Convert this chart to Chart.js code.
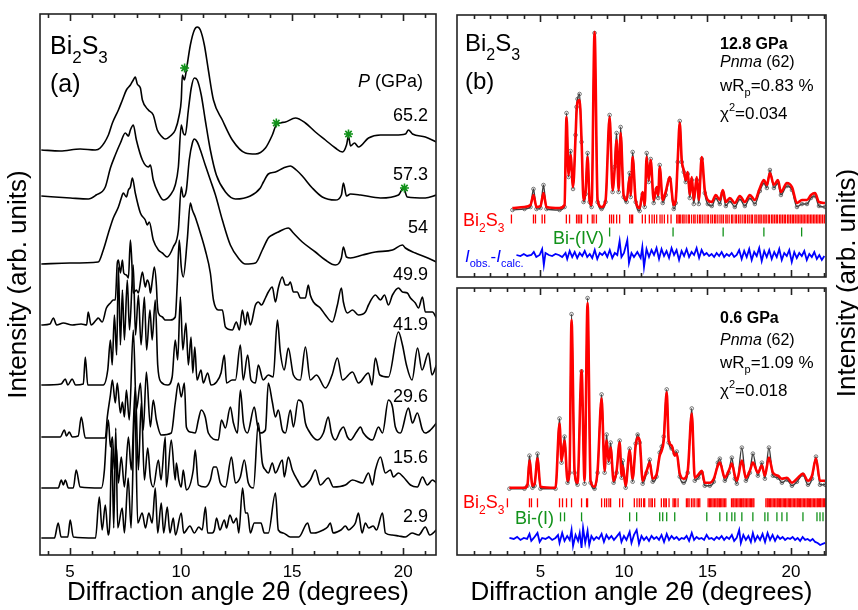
<!DOCTYPE html>
<html lang="pt-br">
<head>
<meta charset="UTF-8">
<title>Bi2S3 - difração</title>
<script src="https://cdn.jsdelivr.net/npm/chart.js@4"></script>
<style>
  body { margin: 0; background: #fff; }
  #quadro { position: relative; width: 858px; height: 610px; }
  #quadro canvas { position: absolute; left: 0; top: 0; }
</style>
</head>
<body>
<div id="quadro">
  <canvas id="graficoA" width="858" height="610"></canvas>
  <canvas id="graficoB" width="858" height="610"></canvas>
  <canvas id="graficoC" width="858" height="610"></canvas>
</div>
<script>
// ---------- painel (a): pressões, deslocamentos verticais e perfis [2θ, intensidade] ----------
const pressoes = ['65.2', '57.3', '54', '49.9', '41.9', '29.6', '15.6', '2.9'];
const deslocamentos = [405, 358, 291, 230, 170, 118, 67, 17];

const p652 = [[3.71,0],[4.56,-1],[5.46,1],[6.14,0],[6.36,2],[6.73,15],[6.91,27],[7.18,40],[7.36,50],[7.54,60],[7.72,65],[7.85,70],[7.94,73],[8.03,66],[8.17,62],[8.26,50],[8.53,40],[8.75,35],[8.93,20],[9.11,14],[9.29,11],[9.52,14],[9.74,20],[9.92,35],[10.01,50],[10.06,75],[10.15,70],[10.24,80],[10.42,105],[10.6,120],[10.73,123],[10.87,120],[11.05,105],[11.23,80],[11.46,50],[11.86,30],[12.31,10],[12.9,-3],[13.35,-4],[13.8,2],[14.11,15],[14.29,25],[14.7,28],[15.15,32],[15.6,27],[16.05,18],[16.5,10],[16.95,2],[17.27,-2],[17.45,5],[17.54,14],[17.63,4],[17.81,7],[17.99,3],[18.44,12],[18.98,15],[19.65,15],[20.1,16],[20.24,20],[20.42,16],[21.0,13],[21.5,8]];
const p573 = [[3.71,1],[5.02,-1],[5.83,-2],[6.18,2],[6.59,10],[6.82,29],[7.04,42],[7.27,54],[7.49,64],[7.63,61],[7.72,67],[7.85,72],[7.99,57],[8.26,37],[8.53,30],[8.62,32],[8.75,17],[8.98,4],[9.2,-3],[9.52,2],[9.74,12],[9.88,30],[10.01,72],[10.1,64],[10.19,62],[10.33,87],[10.46,109],[10.6,119],[10.73,117],[10.91,102],[11.09,77],[11.32,47],[11.59,22],[12.0,5],[12.45,-2],[13.12,1],[13.57,9],[13.71,15],[13.93,23],[14.25,25],[14.61,29],[14.92,31],[15.19,27],[15.46,21],[15.91,9],[16.36,0],[16.95,-3],[17.22,2],[17.31,14],[17.45,1],[17.63,3],[18.08,2],[18.98,-1],[19.79,2],[20.01,9],[20.19,0],[21.0,-1],[21.5,2]];
const p540 = [[3.71,0],[5.0,1],[6.27,2],[6.5,14],[6.73,31],[6.95,46],[7.18,57],[7.31,66],[7.4,71],[7.54,67],[7.63,74],[7.72,77],[7.81,86],[7.94,71],[8.17,51],[8.39,44],[8.48,39],[8.57,42],[8.75,24],[8.98,14],[9.16,11],[9.38,7],[9.65,17],[9.88,34],[10.01,77],[10.1,67],[10.24,74],[10.37,104],[10.51,121],[10.6,125],[10.73,122],[10.87,114],[11.09,99],[11.32,84],[11.55,69],[11.86,44],[12.22,19],[12.58,6],[12.9,0],[13.35,1],[13.66,14],[13.93,26],[14.11,29],[14.38,32],[14.83,36],[15.06,31],[15.46,22],[16.05,12],[16.5,4],[16.95,-1],[17.22,6],[17.31,17],[17.45,7],[17.63,6],[18.17,9],[18.75,12],[19.52,14],[19.97,19],[20.1,16],[20.55,11],[21.0,7],[21.5,2]];
const p499 = [[3.71,0],[4.1,1],[4.25,7],[4.4,0],[4.7,2],[5.1,0],[5.5,1],[5.75,0],[5.82,13],[5.95,0],[6.18,5],[6.27,7],[6.45,3],[6.64,17],[6.82,22],[6.95,25],[7.04,25],[7.13,62],[7.18,65],[7.27,52],[7.36,65],[7.42,52],[7.54,50],[7.63,47],[7.72,85],[7.78,65],[7.85,32],[7.99,35],[8.08,32],[8.26,53],[8.35,42],[8.39,38],[8.48,45],[8.57,40],[8.62,32],[8.71,45],[8.8,58],[8.89,40],[8.93,22],[8.98,12],[9.16,8],[9.29,5],[9.52,5],[9.74,8],[9.83,42],[9.92,85],[10.01,58],[10.1,48],[10.28,85],[10.42,122],[10.51,115],[10.64,108],[10.73,102],[10.87,92],[11.09,75],[11.32,52],[11.46,25],[11.68,15],[11.86,15],[12.0,-2],[12.31,-5],[12.49,3],[12.63,-5],[12.76,15],[12.9,0],[12.99,13],[13.12,0],[13.35,20],[13.48,23],[13.62,20],[13.8,27],[13.93,33],[14.11,38],[14.25,23],[14.38,37],[14.56,48],[14.7,40],[14.83,40],[14.92,43],[15.06,33],[15.24,33],[15.37,27],[15.6,27],[15.73,40],[15.82,30],[15.96,23],[16.27,17],[16.5,10],[16.81,3],[17.04,20],[17.22,37],[17.31,23],[17.49,12],[17.72,15],[17.99,10],[18.3,13],[18.44,20],[18.75,30],[18.98,25],[19.16,30],[19.34,20],[19.52,30],[19.79,37],[19.97,33],[20.19,32],[20.33,27],[20.55,22],[20.69,17],[20.87,28],[21.0,13],[21.32,13],[21.5,7]];
const p419 = [[3.71,0],[4.6,1],[4.79,6],[4.9,0],[5.1,6],[5.25,0],[5.6,1],[5.69,28],[5.8,0],[6.5,0],[6.7,15],[6.82,45],[6.9,20],[7.0,70],[7.1,30],[7.18,118],[7.27,40],[7.36,95],[7.45,45],[7.58,105],[7.68,55],[7.85,120],[7.95,50],[8.08,90],[8.2,40],[8.35,88],[8.45,35],[8.6,75],[8.7,45],[8.84,85],[8.95,20],[9.1,3],[9.4,0],[9.6,8],[9.74,45],[9.85,25],[9.97,88],[10.08,35],[10.22,62],[10.33,20],[10.45,48],[10.53,12],[10.62,38],[10.72,5],[10.9,15],[11.0,2],[11.2,12],[11.35,0],[11.6,3],[11.8,12],[11.95,30],[12.05,2],[12.3,5],[12.45,5],[12.67,40],[12.8,5],[13.0,30],[13.15,5],[13.35,2],[13.48,20],[13.7,5],[13.93,10],[14.15,8],[14.34,65],[14.47,33],[14.65,15],[14.83,37],[15.06,10],[15.37,5],[15.6,38],[15.82,5],[16.1,10],[16.5,-3],[16.8,10],[17.04,27],[17.27,5],[17.72,13],[17.99,2],[18.44,12],[18.6,0],[18.75,27],[18.95,10],[19.34,8],[19.79,53],[19.97,40],[20.15,20],[20.4,5],[20.65,37],[20.85,15],[21.14,32],[21.3,10],[21.5,20]];
const p296 = [[3.71,0],[4.56,0],[4.75,7],[4.84,1],[4.97,5],[5.1,0],[5.37,1],[5.51,20],[5.69,-1],[6.59,-1],[6.68,20],[6.82,42],[6.91,57],[7.04,34],[7.13,54],[7.27,24],[7.36,35],[7.45,20],[7.54,47],[7.67,17],[7.85,107],[7.99,27],[8.17,54],[8.3,7],[8.44,65],[8.62,10],[8.75,37],[8.89,17],[9.11,2],[9.56,4],[9.74,34],[9.88,54],[10.01,40],[10.15,54],[10.24,10],[10.42,5],[10.64,4],[10.78,17],[10.91,27],[11.09,20],[11.23,4],[11.68,-3],[11.82,17],[12.0,9],[12.22,30],[12.36,14],[12.54,4],[12.67,47],[12.81,14],[12.99,4],[13.3,30],[13.44,12],[13.57,4],[13.8,7],[13.93,54],[14.11,35],[14.25,20],[14.38,27],[14.56,7],[14.7,4],[14.92,27],[15.06,10],[15.28,37],[15.46,34],[15.6,14],[15.73,7],[16.14,-3],[16.41,4],[16.63,20],[16.77,4],[16.95,-3],[17.18,7],[17.31,10],[17.49,0],[17.63,-3],[17.9,5],[18.08,10],[18.21,4],[18.62,-3],[18.89,10],[19.07,4],[19.34,37],[19.52,30],[19.65,10],[19.88,4],[20.24,29],[20.42,14],[20.64,24],[20.87,7],[21.0,4],[21.23,7],[21.5,14]];
const p156 = [[3.71,0],[4.47,0],[4.61,8],[4.7,3],[4.79,8],[4.93,0],[5.15,0],[5.28,18],[5.46,1],[6.41,0],[6.55,18],[6.64,51],[6.73,68],[6.82,41],[6.91,51],[7.0,18],[7.09,41],[7.18,5],[7.31,31],[7.45,1],[7.63,51],[7.76,18],[7.94,101],[8.08,18],[8.21,85],[8.35,8],[8.5,40],[8.62,10],[8.75,1],[8.98,28],[9.1,8],[9.29,51],[9.34,1],[9.56,48],[9.74,8],[9.79,25],[9.9,8],[10.01,1],[10.1,18],[10.24,-2],[10.55,18],[10.64,38],[10.78,3],[11.09,1],[11.32,8],[11.46,21],[11.59,21],[11.77,5],[12.0,1],[12.27,31],[12.45,5],[12.67,11],[12.85,28],[13.03,5],[13.26,0],[13.48,65],[13.66,25],[13.8,18],[13.93,15],[14.11,25],[14.25,15],[14.56,28],[14.65,11],[14.83,31],[15.01,18],[15.24,8],[15.46,1],[15.82,8],[16.05,18],[16.27,3],[16.63,10],[16.86,1],[17.4,3],[17.72,8],[18.17,5],[18.44,15],[18.62,3],[18.75,18],[18.98,31],[19.2,15],[19.43,18],[19.56,11],[19.79,15],[20.01,11],[20.33,3],[20.64,1],[20.87,11],[21.09,3],[21.32,8],[21.5,5]];
const p029 = [[3.71,0],[4.3,0],[4.47,15],[4.6,1],[4.9,1],[5.01,18],[5.15,1],[6.15,0],[6.32,41],[6.45,8],[6.59,33],[6.72,3],[6.8,20],[6.88,95],[6.97,10],[7.06,110],[7.15,10],[7.35,30],[7.45,5],[7.62,60],[7.75,10],[7.92,135],[8.05,15],[8.25,25],[8.4,10],[8.55,25],[8.7,15],[8.84,50],[8.95,5],[9.11,35],[9.22,5],[9.38,31],[9.5,5],[9.65,20],[9.75,3],[10.01,25],[10.12,5],[10.4,12],[10.6,5],[10.8,11],[10.95,8],[11.1,31],[11.2,5],[11.4,5],[11.5,8],[11.6,20],[11.75,8],[11.95,18],[12.05,10],[12.2,23],[12.36,15],[12.5,20],[12.6,5],[12.77,50],[12.9,25],[13.0,25],[13.12,5],[13.3,15],[13.43,15],[13.6,15],[13.75,5],[13.93,5],[14.25,45],[14.38,8],[14.6,5],[14.92,1],[15.3,1],[15.7,15],[15.85,5],[16.0,5],[16.4,8],[16.6,11],[16.72,15],[16.85,5],[17.2,8],[17.4,12],[17.55,8],[17.72,11],[17.85,15],[17.99,25],[18.15,5],[18.3,15],[18.45,10],[18.65,12],[18.8,8],[19.07,25],[19.2,5],[19.5,3],[19.8,2],[20.1,1],[20.4,5],[20.7,3],[21.0,11],[21.2,3],[21.5,8]];
const perfis = [p652, p573, p540, p499, p419, p296, p156, p029];

// asteriscos verdes do painel (a) [2θ, intensidade]
const asteriscos = [[10.16, 487], [14.29, 432], [17.54, 421], [20.06, 367]];

// ---------- painel (b): 12.8 GPa ----------
const calc128 = [[3.32,69],[4.04,70],[4.4,72],[4.58,82],[4.76,70],[5.0,71],[5.18,84],[5.36,70],[6.14,69],[6.44,72],[6.56,160],[6.68,102],[6.8,122],[6.95,90],[7.1,140],[7.16,165],[7.22,175],[7.34,177],[7.46,137],[7.58,77],[7.7,85],[7.82,120],[7.94,77],[8.06,72],[8.24,245],[8.42,77],[8.66,70],[8.9,77],[9.14,160],[9.32,87],[9.44,107],[9.56,137],[9.68,87],[9.8,144],[9.98,82],[10.16,77],[10.34,100],[10.4,82],[10.52,120],[10.7,77],[10.94,69],[11.12,85],[11.24,72],[11.36,120],[11.48,97],[11.6,117],[11.78,77],[11.96,90],[12.05,82],[12.14,110],[12.32,77],[12.5,85],[12.74,100],[12.98,72],[13.1,77],[13.22,117],[13.34,154],[13.46,117],[13.58,107],[13.7,97],[13.82,105],[13.94,82],[14.06,100],[14.18,77],[14.36,100],[14.48,77],[14.66,120],[14.84,87],[15.02,77],[15.26,75],[15.5,82],[15.74,77],[15.92,87],[16.1,75],[16.34,79],[16.64,74],[16.94,81],[17.24,75],[17.54,82],[17.84,77],[18.14,89],[18.38,97],[18.56,92],[18.74,104],[18.98,92],[19.22,97],[19.4,85],[19.76,94],[20.06,90],[20.36,74],[20.66,77],[20.96,77],[21.2,82],[21.44,84],[21.68,75],[22.04,74]];
const obs128 = [[3.32,67],[4.04,68],[4.4,70],[4.58,88],[4.76,68],[5.0,69],[5.18,92],[5.36,68],[6.14,67],[6.44,70],[6.56,164],[6.68,100],[6.8,126],[6.95,88],[7.1,142],[7.16,170],[7.22,178],[7.34,183],[7.46,135],[7.58,75],[7.7,83],[7.82,124],[7.94,75],[8.06,70],[8.24,244],[8.42,75],[8.66,68],[8.9,75],[9.14,162],[9.32,85],[9.44,110],[9.56,144],[9.68,85],[9.8,150],[9.98,80],[10.16,75],[10.34,104],[10.4,80],[10.52,125],[10.7,75],[10.94,66],[11.12,83],[11.24,70],[11.36,124],[11.48,95],[11.6,118],[11.78,74],[11.96,88],[12.05,79],[12.14,112],[12.32,74],[12.5,82],[12.74,98],[12.98,68],[13.1,74],[13.22,115],[13.34,156],[13.46,115],[13.58,105],[13.7,95],[13.82,103],[13.94,79],[14.06,97],[14.18,73],[14.36,97],[14.48,73],[14.66,118],[14.84,84],[15.02,73],[15.26,71],[15.5,79],[15.74,73],[15.92,84],[16.1,71],[16.34,76],[16.64,70],[16.94,78],[17.24,71],[17.54,79],[17.84,73],[18.14,86],[18.38,94],[18.56,89],[18.74,107],[18.98,89],[19.22,94],[19.4,82],[19.76,91],[20.06,87],[20.36,70],[20.66,73],[20.96,73],[21.2,79],[21.44,81],[21.68,71],[22.04,70]];
const dif128 = [[3.56,22],[3.8,21],[4.0,23],[4.2,21],[4.45,22],[4.6,25],[4.75,20],[4.95,22],[5.1,28],[5.2,12],[5.3,24],[5.5,22],[5.7,21],[5.9,23],[6.1,22],[6.3,20],[6.5,24],[6.6,18],[6.75,26],[6.9,20],[7.05,25],[7.2,19],[7.35,24],[7.5,21],[7.65,26],[7.8,20],[7.95,23],[8.1,19],[8.25,27],[8.4,18],[8.55,24],[8.7,22],[8.85,25],[9.0,20],[9.15,27],[9.3,19],[9.45,24],[9.6,22],[9.74,36],[9.85,20],[10.0,24],[10.2,37],[10.3,14],[10.45,24],[10.6,20],[10.8,25],[11.0,19],[11.1,30],[11.2,10],[11.35,28],[11.5,20],[11.65,27],[11.8,22],[11.95,29],[12.1,18],[12.25,28],[12.4,21],[12.55,26],[12.7,19],[12.85,29],[13.0,22],[13.15,27],[13.3,17],[13.45,26],[13.6,21],[13.75,28],[13.9,20],[14.05,25],[14.2,22],[14.35,29],[14.5,19],[14.65,27],[14.8,22],[14.95,24],[15.1,21],[15.25,23],[15.4,20],[15.55,24],[15.7,21],[15.85,25],[16.0,20],[16.15,23],[16.3,21],[16.45,24],[16.6,20],[16.75,22],[16.9,27],[17.05,18],[17.2,26],[17.35,20],[17.5,28],[17.65,17],[17.8,25],[17.95,21],[18.1,29],[18.25,16],[18.4,26],[18.55,20],[18.7,27],[18.85,18],[19.0,25],[19.15,20],[19.3,28],[19.45,17],[19.6,24],[19.75,21],[19.9,27],[20.05,15],[20.2,25],[20.35,19],[20.5,24],[20.65,21],[20.8,26],[20.95,17],[21.1,23],[21.25,20],[21.4,25],[21.55,18],[21.7,22],[21.85,17],[22.0,21]];
const refl128 = [3.26,4.58,4.7,5.1,5.25,6.55,6.74,7.16,7.26,7.36,7.46,7.82,8.1,8.2,8.35,9.14,9.26,9.38,9.56,9.74,10.34,10.44,10.52,11.1,11.28,11.52,11.68,11.82,11.96,12.16,12.28,12.42,12.62,12.82,13.16,13.24,13.32,13.4,13.52,13.6,13.72,13.85,13.92,14.05,14.18,14.26,14.4,14.52,14.6,14.72,14.85,14.98,15.06,15.2,15.3,15.42,15.5,15.62,15.75,15.86,15.96,16.1,16.18,16.3,16.44,16.52,16.66,16.74,16.86,16.96,17.08,17.2,17.28,17.4,17.5,17.62,17.7,17.84,17.92,18.04,18.14,18.22,18.34,18.44,18.52,18.64,18.72,18.84,18.92,19.02,19.12,19.2,19.32,19.4,19.5,19.6,19.68,19.8,19.88,19.98,20.08,20.16,20.26,20.36,20.44,20.54,20.62,20.72,20.8,20.9,21.0,21.08,21.18,21.26,21.36,21.44,21.54,21.62,21.72,21.8,21.9,22.0];
const reflBiIV = [9.14, 12.94, 15.94, 18.38, 20.64];

// ---------- painel (b): 0.6 GPa ----------
const calc06 = [[3.14,67],[4.04,67],[4.22,70],[4.34,94],[4.52,69],[4.65,71],[4.82,96],[5.0,68],[5.9,67],[6.14,131],[6.26,94],[6.44,114],[6.62,74],[6.74,84],[6.86,234],[7.04,84],[7.22,72],[7.46,184],[7.64,74],[7.82,251],[8.0,74],[8.24,68],[8.42,84],[8.66,156],[8.84,84],[8.96,114],[9.08,94],[9.2,107],[9.38,74],[9.56,84],[9.74,112],[9.86,79],[9.92,89],[10.1,69],[10.34,104],[10.52,76],[10.7,109],[10.82,117],[10.94,114],[11.12,74],[11.36,84],[11.54,92],[11.72,76],[11.95,80],[12.14,99],[12.26,104],[12.38,114],[12.56,162],[12.68,114],[12.86,109],[13.04,99],[13.16,101],[13.34,81],[13.58,76],[13.82,84],[14.06,141],[14.24,77],[14.45,80],[14.66,84],[14.84,72],[15.14,72],[15.38,76],[15.62,89],[15.74,92],[16.04,77],[16.28,84],[16.46,91],[16.64,79],[16.76,74],[17.06,94],[17.3,77],[17.54,84],[17.72,92],[18.02,82],[18.26,89],[18.44,79],[18.68,97],[18.92,82],[19.22,79],[19.46,76],[19.76,77],[20.06,72],[20.36,76],[20.72,81],[21.02,74],[21.26,79],[21.5,96],[21.74,74],[22.04,74]];
const obs06 = [[3.14,66],[4.04,66],[4.22,69],[4.34,99],[4.52,67],[4.65,69],[4.82,101],[5.0,66],[5.9,66],[6.14,136],[6.26,92],[6.44,118],[6.62,72],[6.74,82],[6.86,240],[7.04,82],[7.22,70],[7.46,183],[7.64,71],[7.82,256],[8.0,72],[8.24,66],[8.42,82],[8.66,160],[8.84,82],[8.96,120],[9.08,92],[9.2,112],[9.38,72],[9.56,82],[9.74,114],[9.86,77],[9.92,94],[10.1,67],[10.34,106],[10.52,73],[10.7,111],[10.82,120],[10.94,112],[11.12,71],[11.36,82],[11.54,95],[11.72,73],[11.95,78],[12.14,102],[12.26,108],[12.38,118],[12.56,165],[12.68,112],[12.86,106],[13.04,101],[13.16,103],[13.34,78],[13.58,72],[13.82,82],[14.06,146],[14.24,74],[14.45,77],[14.66,82],[14.84,69],[15.14,69],[15.38,73],[15.62,92],[15.74,96],[16.04,74],[16.28,82],[16.46,97],[16.64,76],[16.76,71],[17.06,107],[17.3,74],[17.54,82],[17.72,101],[18.02,79],[18.26,92],[18.44,76],[18.68,107],[18.92,79],[19.22,77],[19.46,72],[19.76,75],[20.06,69],[20.36,73],[20.72,80],[21.02,70],[21.26,76],[21.5,98],[21.74,70],[22.04,70]];
const dif06 = [[3.14,17],[3.4,16],[3.6,18],[3.8,15],[4.0,17],[4.2,16],[4.34,21],[4.45,14],[4.6,17],[4.82,22],[4.95,13],[5.1,17],[5.3,16],[5.5,18],[5.7,15],[5.9,17],[6.05,20],[6.14,12],[6.3,22],[6.44,14],[6.6,19],[6.75,15],[6.86,25],[6.95,9],[7.1,20],[7.25,14],[7.35,22],[7.46,7],[7.55,27],[7.68,12],[7.82,24],[7.92,10],[8.05,19],[8.2,15],[8.35,18],[8.5,16],[8.66,21],[8.8,13],[8.95,20],[9.1,16],[9.25,19],[9.4,15],[9.55,18],[9.74,22],[9.85,13],[10.0,19],[10.15,15],[10.34,23],[10.45,12],[10.6,20],[10.76,25],[10.9,11],[11.05,19],[11.2,15],[11.35,18],[11.5,14],[11.65,19],[11.8,16],[11.95,18],[12.1,15],[12.25,20],[12.4,13],[12.56,21],[12.7,15],[12.85,19],[13.0,16],[13.15,18],[13.3,15],[13.45,17],[13.6,16],[13.75,19],[13.9,14],[14.06,22],[14.2,15],[14.35,18],[14.5,16],[14.65,17],[14.8,15],[14.95,20],[15.1,16],[15.25,17],[15.4,15],[15.55,18],[15.7,16],[15.85,19],[16.0,15],[16.15,18],[16.3,16],[16.46,20],[16.6,14],[16.75,17],[16.9,25],[17.0,12],[17.15,20],[17.3,15],[17.45,19],[17.6,13],[17.72,22],[17.85,14],[18.0,19],[18.15,15],[18.3,21],[18.45,13],[18.6,22],[18.75,15],[18.9,20],[19.05,14],[19.2,19],[19.35,16],[19.5,18],[19.65,15],[19.8,17],[19.95,16],[20.1,18],[20.25,15],[20.4,17],[20.55,14],[20.7,18],[20.85,15],[21.0,16],[21.15,14],[21.3,16],[21.45,13],[21.6,12],[21.75,10],[21.9,11],[22.05,12]];
const refl06 = [3.02,4.34,4.46,4.82,6.14,6.32,6.56,6.86,7.46,7.76,7.82,8.66,8.84,8.96,9.1,9.2,9.74,9.92,10.62,10.78,10.92,11.04,11.18,11.24,11.5,11.62,11.7,11.84,12.24,12.38,12.46,12.54,12.7,12.94,13.02,13.1,13.24,13.74,13.82,13.9,14.04,14.14,14.24,14.38,14.46,14.54,15.04,15.12,15.18,15.26,15.34,15.42,15.5,15.58,15.64,15.72,15.78,15.86,15.94,16.02,16.1,16.44,16.52,16.58,16.66,16.74,16.82,16.9,16.98,17.04,17.12,17.18,17.26,17.34,17.42,17.5,17.58,17.64,17.72,17.78,18.5,18.58,18.64,18.72,18.78,18.86,18.94,19.02,19.1,19.18,19.24,19.32,19.38,19.46,19.54,19.62,19.68,19.76,19.84,19.92,19.98,20.06,20.14,20.22,20.3,20.38,20.44,20.52,20.58,20.66,20.74,20.82,20.9,20.98,21.04,21.12,21.18,21.26,21.34,21.42,21.5,21.58,21.64,21.72,21.78,21.86,21.94,22.02,22.1];
const reflBiI = [6.2,6.44,7.46,10.34,10.76,12.14,12.32,12.56,13.04,14.96,15.74,16.16,16.46,16.64,17.06,17.72,18.44,18.62,19.16,19.46,19.76,20.72,21.56,21.74,21.92];

const ticksX = [5, 10, 15, 20];

// ---------- estilos ----------
const fonte = '"Liberation Sans", Arial, Helvetica, sans-serif';
const VERMELHO = '#ff0000', VERDE = '#11921a', AZUL = '#0000ff';
Chart.defaults.font.family = fonte;
Chart.defaults.color = '#000';

function curva(pts, dy, cor, largura, suave) {
    return {
        data: pts.map(([t, v]) => ({ x: t, y: v + dy })),
        showLine: true, borderColor: cor, borderWidth: largura,
        pointRadius: 0, tension: 0,
        cubicInterpolationMode: suave ? 'monotone' : 'default'
    };
}

function marcas(lista, nivel, cor) {
    return {
        data: lista.map(t => ({ x: t, y: nivel })),
        showLine: false, pointStyle: 'line', pointRotation: 90,
        pointRadius: 4.5, pointBorderColor: cor, pointBorderWidth: 1.3
    };
}

// escreve texto com subscritos / itálico: partes = [texto, tamanho, dy, estilo]
function escreve(ctx, x, y, partes, cor) {
    ctx.save();
    ctx.fillStyle = cor || '#000';
    ctx.textBaseline = 'alphabetic';
    ctx.textAlign = 'left';
    let cx = x;
    for (const [t, tam, dy, estilo] of partes) {
        ctx.font = `${estilo || ''} ${tam}px ${fonte}`;
        ctx.fillText(t, cx, y + (dy || 0));
        cx += ctx.measureText(t).width;
    }
    ctx.restore();
}

function bi2s3(ctx, x, y, tam, cor) {
    const s = Math.round(tam * 0.68);
    escreve(ctx, x, y, [['Bi', tam], ['2', s, tam * 0.36], ['S', tam], ['3', s, tam * 0.36]], cor);
}

// moldura e marcas de escala para dentro
const moldura = {
    id: 'moldura',
    afterDatasetsDraw(chart) {
        const { ctx, chartArea: a, scales: { x } } = chart;
        ctx.save();
        ctx.strokeStyle = '#222';
        ctx.lineWidth = 1.6;
        ctx.beginPath();
        for (let v = Math.ceil(x.min + 0.01); v < x.max; v++) {
            const px = Math.round(x.getPixelForValue(v)) + 0.5;
            const len = v % 5 === 0 ? 7 : 4;
            ctx.moveTo(px, a.bottom); ctx.lineTo(px, a.bottom - len);
            ctx.moveTo(px, a.top); ctx.lineTo(px, a.top + len);
        }
        ctx.stroke();
        ctx.strokeRect(a.left, a.top, a.right - a.left, a.bottom - a.top);
        ctx.restore();
    }
};

const base = {
    animation: false, responsive: false, devicePixelRatio: 1, events: [],
    plugins: { legend: { display: false }, tooltip: { enabled: false } }
};

function eixoX(min, max) {
    return {
        type: 'linear', min: min, max: max,
        afterBuildTicks: s => { s.ticks = ticksX.map(v => ({ value: v })); },
        grid: { display: false, drawTicks: false, tickLength: 0 },
        border: { display: false },
        ticks: { font: { size: 17 }, color: '#000', padding: 7, maxRotation: 0 },
        title: { display: true, text: 'Diffraction angle 2θ (degrees)', font: { size: 26 }, color: '#000', padding: { top: 0, bottom: 2 } },
        afterFit: s => { s.height = 55; }
    };
}

// ---------- painel (a) ----------
const textosA = {
    id: 'textosA',
    afterDraw(chart) {
        const ctx = chart.ctx;
        bi2s3(ctx, 50, 54, 25, '#000');
        escreve(ctx, 50, 92, [['(a)', 25]]);
        escreve(ctx, 358, 87, [['P', 18, 0, 'italic'], [' (GPa)', 18]]);
        const basesY = [121, 180, 233, 280, 330, 402, 463, 522];
        ctx.save();
        ctx.font = `18px ${fonte}`;
        ctx.fillStyle = '#000';
        ctx.textAlign = 'right';
        pressoes.forEach((p, i) => ctx.fillText(p, 428, basesY[i]));
        ctx.restore();
    }
};

const dadosA = perfis.map((p, i) => curva(p, deslocamentos[i], '#000', 1.6, true));
dadosA.unshift({
    data: asteriscos.map(([t, v]) => ({ x: t, y: v })),
    showLine: false, pointStyle: 'star', pointRadius: 4.5,
    pointBorderColor: VERDE, pointBorderWidth: 1.6
});

new Chart(document.getElementById('graficoA'), {
    type: 'scatter',
    data: { datasets: dadosA },
    options: {
        ...base,
        layout: { padding: { left: 0, top: 14, right: 422, bottom: 0 } },
        scales: {
            x: eixoX(3.65, 21.48),
            y: {
                min: 0, max: 541,
                ticks: { display: false },
                grid: { display: false, drawTicks: false },
                border: { display: false },
                title: { display: true, text: 'Intensity (arb. units)', font: { size: 26 }, color: '#000', padding: { top: 3, bottom: 0 } },
                afterFit: s => { s.width = 40; }
            }
        }
    },
    plugins: [moldura, textosA]
});

// ---------- painel (b), 12.8 GPa ----------
const textosB = {
    id: 'textosB',
    afterDraw(chart) {
        const ctx = chart.ctx;
        bi2s3(ctx, 465, 51, 24, '#000');
        escreve(ctx, 465, 89, [['(b)', 24]]);
        escreve(ctx, 720, 49, [['12.8 GPa', 16, 0, 'bold']]);
        escreve(ctx, 720, 67, [['Pnma', 16, 0, 'italic'], [' (62)', 16]]);
        escreve(ctx, 720, 91, [['wR', 17], ['p', 11, 5], ['=0.83 %', 17]]);
        escreve(ctx, 720, 119, [['χ', 17], ['2', 11, -8], ['=0.034', 17]]);
        bi2s3(ctx, 463, 226, 18, VERMELHO);
        escreve(ctx, 553, 244, [['Bi-(IV)', 18]], VERDE);
        escreve(ctx, 465, 262, [['I', 17, 0, 'italic'], ['obs.', 11, 5], ['-', 17], ['I', 17, 0, 'italic'], ['calc.', 11, 5]], AZUL);
    }
};

new Chart(document.getElementById('graficoB'), {
    type: 'scatter',
    data: {
        datasets: [
            { ...curva(calc128, 0, VERMELHO, 2.6, true), order: 0 },
            { ...curva(obs128, 0, '#3a3a3a', 1.4, true), pointRadius: 1.8, pointStyle: 'circle', pointBorderColor: '#555', pointBorderWidth: 0.8, pointBackgroundColor: 'rgba(0,0,0,0)', order: 1 },
            { ...marcas(refl128, 58, VERMELHO), order: 2 },
            { ...marcas(reflBiIV, 45, VERDE), order: 2 },
            { ...curva(dif128, 0, AZUL, 1.8, false), order: 2 }
        ]
    },
    options: {
        ...base,
        layout: { padding: { left: 457, top: 15, right: 32, bottom: 333 } },
        scales: {
            x: { type: 'linear', min: 0, max: 22.1, display: false },
            y: { min: 0, max: 262, display: false }
        }
    },
    plugins: [moldura, textosB]
});

// ---------- painel (b), 0.6 GPa ----------
const textosC = {
    id: 'textosC',
    afterDraw(chart) {
        const ctx = chart.ctx;
        escreve(ctx, 720, 323, [['0.6 GPa', 16, 0, 'bold']]);
        escreve(ctx, 720, 345, [['Pnma', 16, 0, 'italic'], [' (62)', 16]]);
        escreve(ctx, 720, 368, [['wR', 17], ['p', 11, 5], ['=1.09 %', 17]]);
        escreve(ctx, 720, 396, [['χ', 17], ['2', 11, -8], ['=0.018', 17]]);
        bi2s3(ctx, 463, 508, 18, VERMELHO);
        escreve(ctx, 515, 524, [['Bi-(I)', 18]], VERDE);
        // título do eixo vertical à direita
        ctx.save();
        ctx.translate(848, 283);
        ctx.rotate(-Math.PI / 2);
        ctx.font = `26px ${fonte}`;
        ctx.fillStyle = '#000';
        ctx.textAlign = 'center';
        ctx.textBaseline = 'middle';
        ctx.fillText('Intensity (arb. units)', 0, 0);
        ctx.restore();
    }
};

new Chart(document.getElementById('graficoC'), {
    type: 'scatter',
    data: {
        datasets: [
            { ...curva(calc06, 0, VERMELHO, 2.6, true), order: 0 },
            { ...curva(obs06, 0, '#3a3a3a', 1.4, true), pointRadius: 1.8, pointStyle: 'circle', pointBorderColor: '#555', pointBorderWidth: 0.8, pointBackgroundColor: 'rgba(0,0,0,0)', order: 1 },
            { ...marcas(refl06, 52, VERMELHO), order: 2 },
            { ...marcas(reflBiI, 38, VERDE), order: 2 },
            { ...curva(dif06, 0, AZUL, 1.8, false), order: 2 }
        ]
    },
    options: {
        ...base,
        layout: { padding: { left: 457, top: 288, right: 32, bottom: 0 } },
        scales: {
            x: eixoX(0, 22.1),
            y: { min: 0, max: 266, display: false }
        }
    },
    plugins: [moldura, textosC]
});
</script>
</body>
</html>
